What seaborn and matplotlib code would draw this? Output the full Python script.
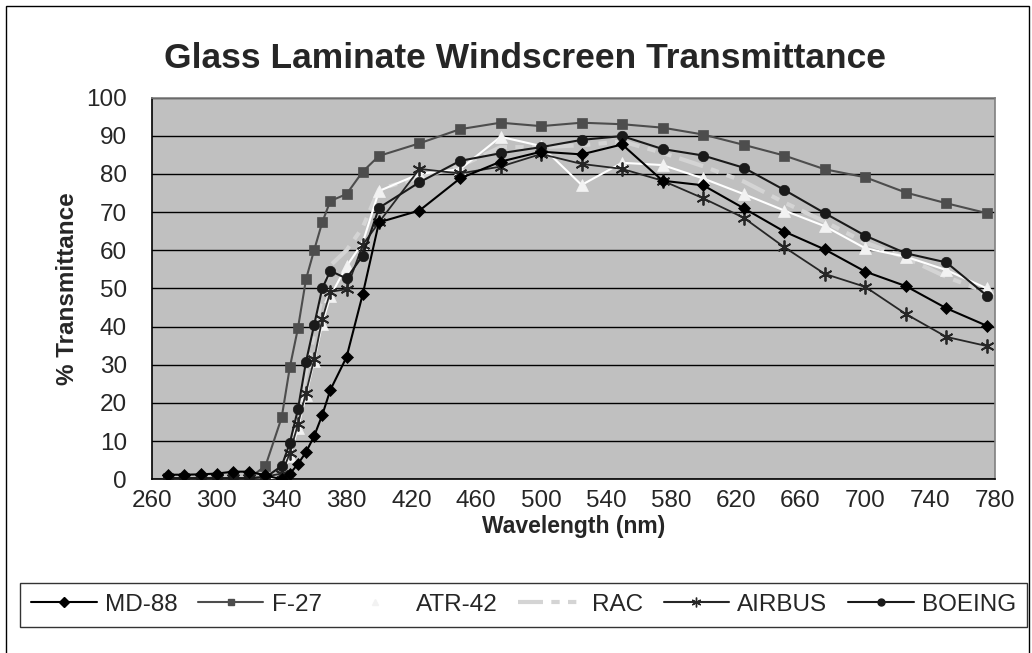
import numpy as np
import pandas as pd
import matplotlib
matplotlib.use("Agg")
import matplotlib.pyplot as plt
import seaborn as sns
from matplotlib.lines import Line2D
from matplotlib.patches import Rectangle

# -----------------------------
# data
# -----------------------------
wavelength = [270, 280, 290, 300, 310, 320, 330, 340, 345, 350, 355, 360, 365, 370,
              380, 390, 400, 425, 450, 475, 500, 525, 550, 575, 600, 625, 650, 675,
              700, 725, 750, 775]

md88 = [1.2, 1.2, 1.3, 1.5, 2.0, 2.0, 1.0, 0.0, 1.4, 4.0, 7.1, 11.3, 16.8, 23.4,
        32.0, 48.5, 67.3, 70.4, 78.8, 83.2, 85.8, 85.1, 87.7, 78.2, 77.0, 71.0,
        64.9, 60.2, 54.4, 50.6, 44.8, 40.2]
f27 = [0.3, 0.3, 0.3, 0.3, 0.3, 0.3, 3.5, 16.2, 29.3, 39.5, 52.4, 60.0, 67.3, 72.9,
       74.7, 80.6, 84.7, 88.0, 91.7, 93.4, 92.5, 93.4, 93.0, 92.1, 90.3, 87.6,
       84.8, 81.2, 79.1, 75.1, 72.3, 69.7]
atr42 = [0.2, 0.2, 0.2, 0.2, 0.2, 0.2, 0.2, 0.5, 6.0, 13.5, 22.0, 31.0, 40.8, 48.0,
         55.8, 62.0, 75.5, 80.0, 81.2, 89.7, 87.3, 77.1, 82.9, 82.3, 78.8, 74.7,
         70.4, 66.3, 60.5, 58.3, 54.8, 50.0]
rac = [0.2, 0.2, 0.2, 0.2, 0.2, 0.2, 0.2, 0.5, 8.0, 17.0, 28.0, 38.0, 48.0, 56.0,
       60.0, 66.0, 76.0, 79.0, 82.0, 87.0, 87.0, 87.5, 88.5, 85.5, 82.0, 78.0,
       72.5, 67.5, 62.0, 58.0, 53.0, 49.0]
airbus = [0.3, 0.3, 0.3, 0.3, 0.3, 0.3, 0.7, 1.5, 6.8, 14.4, 22.7, 31.4, 41.9, 49.1,
          49.8, 61.4, 67.3, 81.3, 80.1, 81.9, 85.2, 82.6, 81.3, 78.2, 73.6, 68.5,
          60.8, 53.8, 50.4, 43.3, 37.3, 34.9]
boeing = [0.3, 0.3, 0.3, 0.3, 0.3, 0.3, 0.5, 3.5, 9.5, 18.3, 30.8, 40.4, 50.0, 54.6,
          52.6, 58.6, 71.1, 77.8, 83.4, 85.4, 87.0, 88.9, 89.9, 86.5, 84.8, 81.6,
          75.8, 69.7, 63.8, 59.2, 56.8, 48.1]

series_names = ["MD-88", "F-27", "ATR-42", "RAC", "AIRBUS", "BOEING"]
series_values = [md88, f27, atr42, rac, airbus, boeing]

x_ticks = list(range(260, 781, 40))
y_ticks = list(range(0, 101, 10))

# long format for seaborn
df = pd.DataFrame({
    "wavelength": wavelength * len(series_names),
    "value": sum(series_values, []),
    "series": np.repeat(series_names, len(wavelength)),
})

# -----------------------------
# styles
# -----------------------------
ASTERISK = (6, 2, 0)
styles = {
    "MD-88":  dict(color="black", marker="D", ms=6.5, mfc="black", mec="black", ls="-", lw=1.5),
    "F-27":   dict(color="#4d4d4d", marker="s", ms=6.5, mfc="#4d4d4d", mec="#4d4d4d", ls="-", lw=1.5),
    "ATR-42": dict(color="white", marker="^", ms=8, mfc="#f2f2f2", mec="#f2f2f2", ls="-", lw=1.5),
    "RAC":    dict(color="#d4d4d4", marker=None, ms=0, mfc="none", mec="none", ls=(0, (6, 2, 2, 2, 2, 2)), lw=3),
    "AIRBUS": dict(color="#262626", marker=ASTERISK, ms=10, mfc="#262626", mec="#262626", ls="-", lw=1.3),
    "BOEING": dict(color="#1a1a1a", marker="o", ms=7.5, mfc="#1a1a1a", mec="#1a1a1a", ls="-", lw=1.5),
}

sns.set_style("white")
plt.rcParams["font.family"] = ["Liberation Sans", "DejaVu Sans"]

fig = plt.figure(figsize=(10.32, 6.53), dpi=100)
ax = fig.add_axes([152 / 1032, 1 - 479.3 / 653, 843 / 1032, 381.8 / 653])
ax.set_facecolor("#c0c0c0")

order = ["RAC", "F-27", "ATR-42", "AIRBUS", "BOEING", "MD-88"]
for name in order:
    st = styles[name]
    sub = df[df["series"] == name]
    sns.lineplot(data=sub, x="wavelength", y="value", ax=ax, color=st["color"],
                 marker=st["marker"], markersize=st["ms"], markerfacecolor=st["mfc"],
                 markeredgecolor=st["mec"], markeredgewidth=1.3 if name == "AIRBUS" else 0.5,
                 linestyle=st["ls"], linewidth=st["lw"], legend=False, zorder=3)

ax.set_xlim(260, 780)
ax.set_ylim(0, 100)
ax.set_xticks(x_ticks)
ax.set_yticks(y_ticks)
ax.tick_params(axis="both", direction="out", length=6, width=1, color="black",
               labelsize=17.5)
ax.tick_params(axis="x", pad=2)
ax.tick_params(axis="y", pad=12)
ax.grid(axis="y", color="black", linewidth=1.0, zorder=0)
ax.grid(axis="x", visible=False)
ax.set_axisbelow(True)

for side in ["top", "right"]:
    ax.spines[side].set_color("#808080")
    ax.spines[side].set_linewidth(1.2)
for side in ["left", "bottom"]:
    ax.spines[side].set_color("black")
    ax.spines[side].set_linewidth(1.2)

ax.set_xlabel("Wavelength (nm)", fontsize=16.5, fontweight="bold")
ax.set_ylabel("% Transmittance", fontsize=17.5, fontweight="bold")
ax.xaxis.set_label_coords(0.5, (479.3 - 527) / 381.8)
ax.xaxis.label.set_va("center")
ax.yaxis.set_label_coords((68 - 152) / 843, 0.5)
ax.yaxis.label.set_va("center")

fig.text(525 / 1032, 1 - 58 / 653, "Glass Laminate Windscreen Transmittance",
         ha="center", va="center", fontsize=25.5, fontweight="bold")

# legend
handles = []
for name in series_names:
    st = styles[name]
    small = {"MD-88": 5, "F-27": 5, "ATR-42": 5, "RAC": 0, "AIRBUS": 7, "BOEING": 5}[name]
    handles.append(Line2D([0], [0], color=st["color"], linestyle=st["ls"],
                          linewidth=1.5 if name != "RAC" else 3,
                          marker=st["marker"], markersize=small,
                          markerfacecolor=st["mfc"], markeredgecolor=st["mec"]))
leg = fig.legend(handles, series_names, loc="upper left",
                 bbox_to_anchor=(20 / 1032, 1 - 583 / 653), ncol=6, fontsize=17.5,
                 frameon=True, fancybox=False, edgecolor="black", borderaxespad=0,
                 handlelength=2.7, handletextpad=0.33, columnspacing=0.85,
                 borderpad=0.45)
leg.get_frame().set_linewidth(1.0)

# outer chart border
fig.patches.append(Rectangle((6 / 1032, -0.02), 1023 / 1032, 1 - 6 / 653 + 0.02,
                             transform=fig.transFigure, fill=False,
                             edgecolor="black", linewidth=1.0))

fig.savefig("out.png", dpi=100)
